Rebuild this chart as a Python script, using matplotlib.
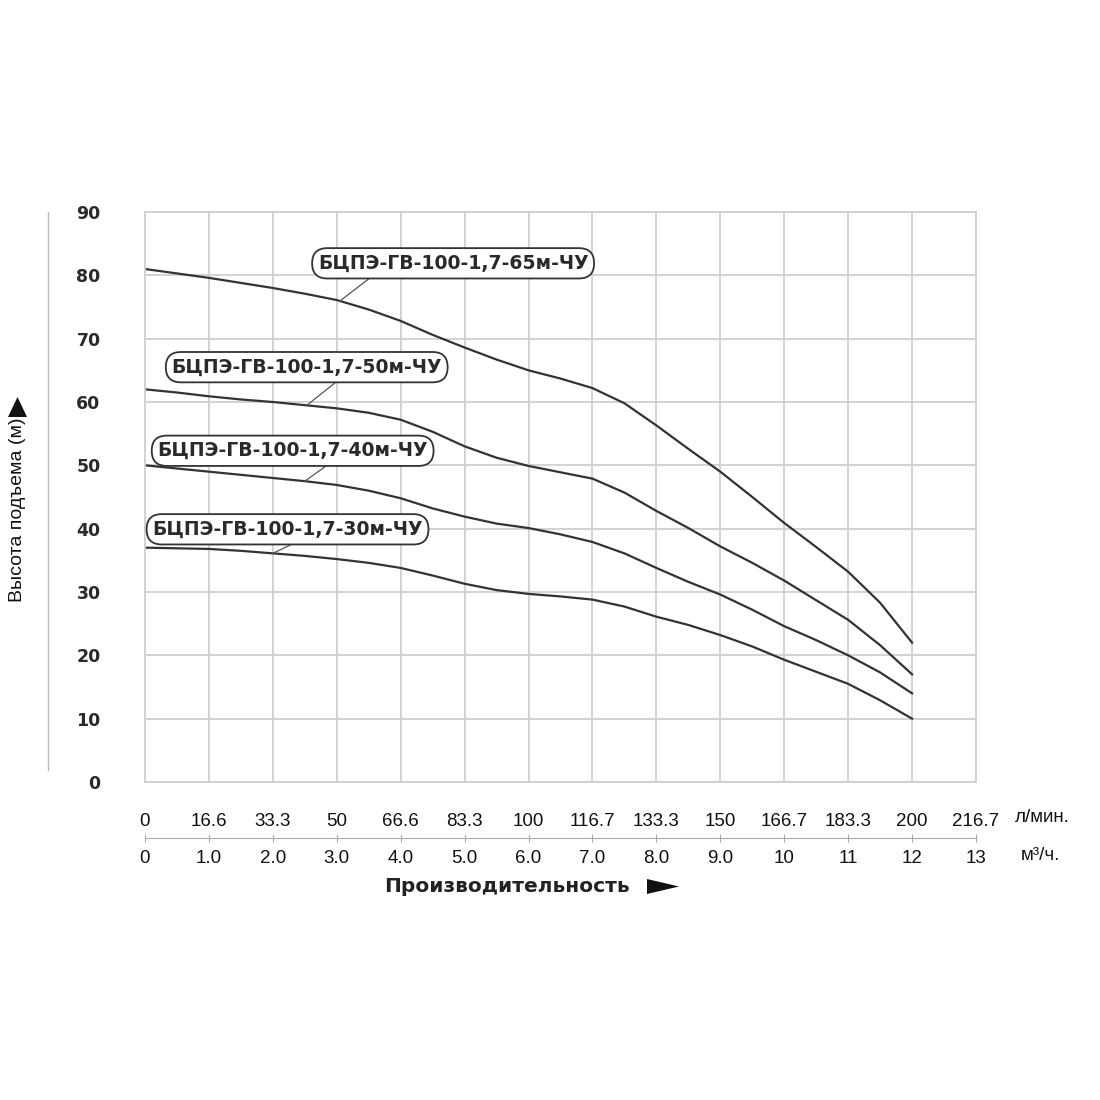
import numpy as np
import matplotlib.pyplot as plt
from matplotlib.lines import Line2D
from matplotlib.patches import Polygon

# flow, m3/h
q = [0, 0.5, 1, 1.5, 2, 2.5, 3, 3.5, 4, 4.5, 5, 5.5, 6, 6.5, 7, 7.5, 8, 8.5,
     9, 9.5, 10, 10.5, 11, 11.5, 12]
q_ticks = list(range(14))
lpm_labels = ['0', '16.6', '33.3', '50', '66.6', '83.3', '100', '116.7', '133.3',
              '150', '166.7', '183.3', '200', '216.7']
m3h_labels = ['0', '1.0', '2.0', '3.0', '4.0', '5.0', '6.0', '7.0', '8.0', '9.0',
              '10', '11', '12', '13']

# head, m
h65 = [81, 80.3, 79.6, 78.8, 78, 77.1, 76.1, 74.6, 72.8, 70.6, 68.6, 66.7, 65,
       63.7, 62.2, 59.8, 56.3, 52.6, 49, 45, 40.9, 37.1, 33.2, 28.3, 22]
h50 = [62, 61.5, 60.9, 60.4, 60, 59.5, 59, 58.3, 57.2, 55.3, 53, 51.2, 49.9,
       48.9, 47.9, 45.7, 42.8, 40.1, 37.2, 34.6, 31.8, 28.7, 25.6, 21.6, 17]
h40 = [50, 49.5, 49, 48.5, 48, 47.5, 46.9, 46, 44.8, 43.2, 41.9, 40.8, 40.1,
       39.1, 37.9, 36.1, 33.8, 31.6, 29.6, 27.2, 24.6, 22.4, 20, 17.3, 14]
h30 = [37, 36.9, 36.8, 36.5, 36.1, 35.7, 35.2, 34.6, 33.8, 32.6, 31.3, 30.3, 29.7,
       29.3, 28.8, 27.7, 26.1, 24.8, 23.2, 21.4, 19.3, 17.4, 15.5, 12.9, 10]

names = ['БЦПЭ-ГВ-100-1,7-65м-ЧУ', 'БЦПЭ-ГВ-100-1,7-50м-ЧУ',
         'БЦПЭ-ГВ-100-1,7-40м-ЧУ', 'БЦПЭ-ГВ-100-1,7-30м-ЧУ']
curves = [h65, h50, h40, h30]
# where each label sits and where its leader touches the curve
label_pos = [(4.82, 81.9), (2.53, 65.5), (2.31, 52.3), (2.23, 39.9)]
leader_x = [3.05, 2.53, 2.50, 2.00]
leader_end = [(3.52, 79.6), (2.97, 63.0), (2.86, 50.1), (2.27, 37.4)]

grid_c = '#d0d0d0'
line_c = '#333333'
narrow = ['Liberation Sans Narrow', 'Liberation Sans', 'DejaVu Sans']
wide = ['DejaVu Sans']

fig = plt.figure(figsize=(11, 11), dpi=100)
ax = fig.add_axes([145 / 1100, 1 - 782 / 1100, 831 / 1100, 570 / 1100])
ax.set_xlim(0, 13)
ax.set_ylim(0, 90)
ax.set_xticks(q_ticks)
ax.set_yticks(range(0, 91, 10))
ax.grid(True, color=grid_c, lw=1.3)
for s in ax.spines.values():
    s.set_color(grid_c)
    s.set_linewidth(1.3)

ax.set_yticklabels([str(v) for v in range(0, 91, 10)], fontsize=12.5,
                   fontweight='bold', family=wide, color='#2a2a2a')
ax.set_xticklabels(lpm_labels, fontsize=13.5, family=narrow, color='#111111')
ax.tick_params(axis='y', length=0, pad=32)
ax.tick_params(axis='x', length=0, pad=22)

for h in curves:
    ax.plot(q, h, color=line_c, lw=1.6, solid_joinstyle='round')

for name, h, (tx, ty), lx, (ex, ey) in zip(names, curves, label_pos, leader_x, leader_end):
    ly = np.interp(lx, q, h)
    ax.plot([lx, ex], [ly, ey], color='#555555', lw=0.9)
    ax.text(tx, ty, name, ha='center', va='center', fontsize=13.6, fontweight='bold',
            family=wide, color='#2a2a2a', zorder=5,
            bbox=dict(boxstyle='round,pad=0.3,rounding_size=0.8', fc='white',
                      ec='#333333', lw=1.3))

# second flow scale
sec = ax.secondary_xaxis(-0.098)
sec.set_xticks(q_ticks)
sec.set_xticklabels(m3h_labels, fontsize=13.5, family=narrow, color='#111111')
sec.spines['bottom'].set_color('#aaaaaa')
sec.tick_params(axis='x', direction='inout', length=6, color='#aaaaaa', pad=6)

fig.text(1042 / 1100, 1 - 818 / 1100, 'л/мин.', ha='center', va='center',
         fontsize=13.5, family=narrow, color='#111111')
fig.text(1040 / 1100, 1 - 855 / 1100, 'м³/ч.', ha='center', va='center',
         fontsize=13.5, family=narrow, color='#111111')
fig.text(507 / 1100, 1 - 886 / 1100, 'Производительность', ha='center',
         va='center', fontsize=14.5, fontweight='bold', family=wide, color='#222222')
fig.text(18 / 1100, 1 - 510 / 1100, 'Высота подъема (м)', ha='center',
         va='center', rotation=90, fontsize=14, family=narrow, color='#111111')

# arrow heads next to the axis titles
W = 1100
fig.patches.append(Polygon([(647 / W, 1 - 879 / W), (647 / W, 1 - 894 / W),
                            (679 / W, 1 - 886.5 / W)], closed=True, fc='#111111',
                           ec='none', transform=fig.transFigure, figure=fig))
fig.patches.append(Polygon([(8 / W, 1 - 417 / W), (27 / W, 1 - 417 / W),
                            (17.5 / W, 1 - 397 / W)], closed=True, fc='#111111',
                           ec='none', transform=fig.transFigure, figure=fig))
fig.add_artist(Line2D([48 / W, 48 / W], [1 - 212 / W, 1 - 770 / W],
                      color='#bbbbbb', lw=1.0))

fig.savefig('out.png', dpi=100, facecolor='white')
